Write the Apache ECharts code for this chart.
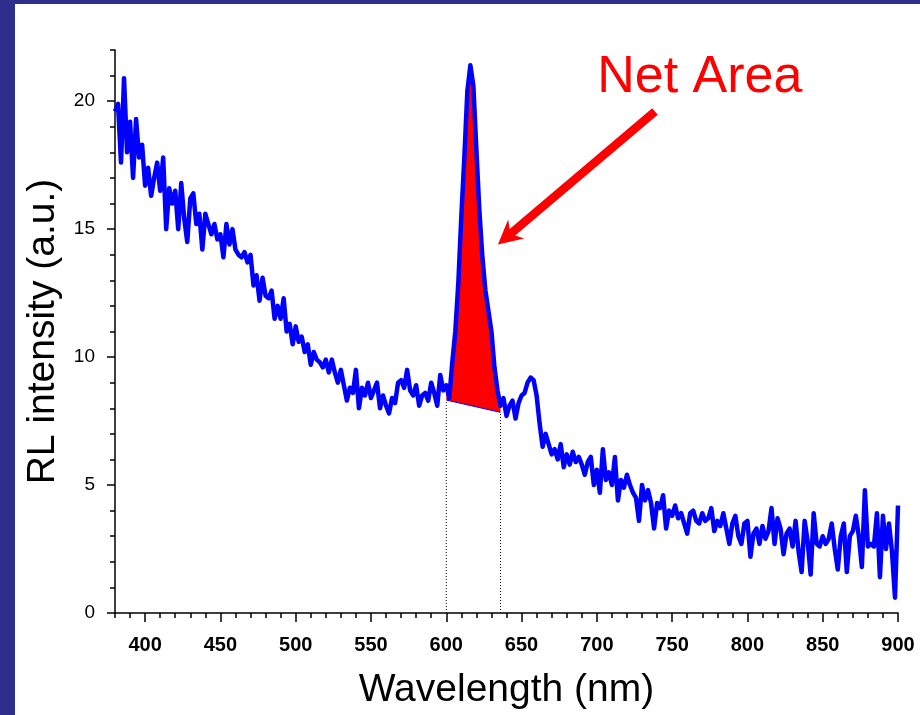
<!DOCTYPE html>
<html>
<head>
<meta charset="utf-8">
<script src="https://cdn.jsdelivr.net/npm/echarts@6/dist/echarts.min.js"></script>
<style>
  html, body { margin: 0; padding: 0; background: #2e2e8c; }
  #frame { position: absolute; left: 15px; top: 4px; width: 905px; height: 711px; background: #ffffff; }
  #chart { position: absolute; left: 0; top: 0; width: 920px; height: 715px; }
</style>
</head>
<body>
<div id="frame"></div>
<div id="chart"></div>
<script>
// ---- Data ----
const wavelengths = [
  380,382,384,386,388,390,392,394,396,398,
  400,402,404,406,408,410,412,414,416,418,
  420,422,424,426,428,430,432,434,436,438,
  440,442,444,446,448,450,452,454,456,458,
  460,462,464,466,468,470,472,474,476,478,
  480,482,484,486,488,490,492,494,496,498,
  500,502,504,506,508,510,512,514,516,518,
  520,522,524,526,528,530,532,534,536,538,
  540,542,544,546,548,550,552,554,556,558,
  560,562,564,566,568,570,572,574,576,578,
  580,582,584,586,588,590,592,594,596,598,
  600,602,604,606,608,610,612,614,616,618,
  620,622,624,626,628,630,632,634,636,638,
  640,642,644,646,648,650,652,654,656,658,
  660,662,664,666,668,670,672,674,676,678,
  680,682,684,686,688,690,692,694,696,698,
  700,702,704,706,708,710,712,714,716,718,
  720,722,724,726,728,730,732,734,736,738,
  740,742,744,746,748,750,752,754,756,758,
  760,762,764,766,768,770,772,774,776,778,
  780,782,784,786,788,790,792,794,796,798,
  800,802,804,806,808,810,812,814,816,818,
  820,822,824,826,828,830,832,834,836,838,
  840,842,844,846,848,850,852,854,856,858,
  860,862,864,866,868,870,872,874,876,878,
  880,882,884,886,888,890,892,894,896,898,
  900
];
const intensity = [
  19.6,19.9,17.6,20.9,18.0,19.2,17.0,19.3,17.8,18.3,
  16.7,17.4,16.3,17.0,17.6,16.5,17.8,15.0,16.6,16.0,
  16.5,15.0,16.8,15.4,14.5,16.2,16.4,15.2,15.6,14.2,
  15.6,15.2,14.8,15.2,14.6,14.8,13.9,15.2,14.4,15.0,
  14.2,14.0,13.9,14.1,13.7,14.0,12.8,13.2,12.2,13.1,
  12.4,12.3,12.6,11.5,12.0,11.5,12.3,11.0,11.3,10.5,
  11.2,10.6,10.8,10.2,10.5,9.7,10.2,9.9,9.8,9.6,
  9.9,9.4,9.9,9.4,9.0,9.5,8.9,8.3,8.8,8.6,
  9.5,8.0,8.8,8.5,9.0,8.4,8.7,9.0,8.0,8.5,
  8.1,7.8,8.4,8.2,9.0,9.1,8.8,9.5,8.7,8.5,
  8.9,8.1,8.5,8.6,8.3,9.0,8.6,8.1,9.3,8.7,
  8.9,8.4,9.8,11.0,12.9,15.5,17.8,20.4,21.4,20.6,
  18.1,15.7,13.9,12.6,11.8,11.0,9.6,8.7,8.1,8.4,
  7.7,8.1,8.3,7.6,8.2,8.5,8.6,9.0,9.2,9.1,
  8.5,7.4,6.5,7.0,6.6,6.2,6.4,6.0,6.6,5.7,
  6.2,5.8,6.3,5.9,6.1,5.8,5.4,5.9,6.1,5.0,
  5.6,4.7,6.4,5.2,5.5,5.0,6.1,4.4,5.2,4.9,
  5.4,5.0,4.7,4.5,3.6,5.0,4.4,4.8,4.3,3.3,
  4.3,4.1,4.6,3.3,4.0,3.8,4.2,3.7,3.9,3.5,
  3.1,3.9,4.0,3.6,3.5,3.9,3.6,3.7,4.1,3.2,
  3.6,3.4,3.9,3.3,2.7,3.5,3.8,3.0,2.7,3.5,
  3.6,2.2,3.1,3.3,2.7,3.4,2.9,3.2,4.1,2.7,
  3.7,3.3,2.3,3.1,3.3,2.6,3.6,2.4,1.6,3.6,
  2.8,1.5,3.9,2.7,2.6,3.0,2.7,2.9,3.5,2.5,
  1.7,3.0,3.5,1.6,3.0,3.2,3.8,3.0,1.8,4.8,
  2.6,2.7,2.6,3.9,1.4,3.8,2.5,3.5,2.4,0.6,
  4.2
];
const xMajorTicks = [400,450,500,550,600,650,700,750,800,850,900];
const xMinorTicks = [380,390,410,420,430,440,460,470,480,490,510,520,530,540,560,570,580,590,
  610,620,630,640,660,670,680,690,710,720,730,740,760,770,780,790,810,820,830,840,860,870,880,890];
const yMajorTicks = [0,5,10,15,20];
const yMinorTicks = [1,2,3,4,6,7,8,9,11,12,13,14,16,17,18,19,21,22];
const peakWindow = [600, 636];          // integration limits (nm)
const baselineValues = [8.32, 7.84];    // baseline intensity at the limits
const arrowTail = [738.6, 19.6];
const arrowTip = [634.3, 14.4];
const labelAnchor = [768.4, 20.9];
const annotationText = 'Net Area';
const xName = 'Wavelength (nm)';
const yName = 'RL intensity (a.u.)';

const FONT = '"Liberation Sans", Arial, Helvetica, sans-serif';
const chart = echarts.init(document.getElementById('chart'), null, { renderer: 'canvas' });

const lineData = wavelengths.map((w, i) => [w, intensity[i]]);

function axisCommon(extra) {
  return Object.assign({
    type: 'value',
    splitLine: { show: false },
    axisLine: { show: false },
    axisLabel: { show: false },
    axisTick: { show: false }
  }, extra);
}

const option = {
  backgroundColor: 'transparent',
  animation: false,
  grid: { left: 115, right: 22, top: 50, bottom: 101 },
  xAxis: [
    axisCommon({
      position: 'bottom', min: 380, max: 900,
      name: xName, nameLocation: 'middle', nameGap: 58,
      nameTextStyle: { fontFamily: FONT, fontSize: 39, color: '#000' },
      axisLine: { show: true, onZero: false, lineStyle: { color: '#000', width: 1.5 } },
      axisTick: { show: true, customValues: xMajorTicks, length: 9, lineStyle: { color: '#000', width: 1.5 } },
      axisLabel: { show: true, customValues: xMajorTicks, margin: 22, fontFamily: FONT, fontSize: 20, fontWeight: 'bold', color: '#000' }
    }),
    axisCommon({
      position: 'bottom', min: 380, max: 900,
      axisTick: { show: true, customValues: xMinorTicks, length: 5, lineStyle: { color: '#000', width: 1.5 } }
    })
  ],
  yAxis: [
    axisCommon({
      position: 'left', min: 0, max: 22,
      name: yName, nameLocation: 'middle', nameGap: 52,
      nameTextStyle: { fontFamily: FONT, fontSize: 39, color: '#000' },
      axisLine: { show: true, onZero: false, lineStyle: { color: '#000', width: 1.5 } },
      axisTick: { show: true, customValues: yMajorTicks, length: 8, lineStyle: { color: '#000', width: 1.5 } },
      axisLabel: { show: true, customValues: yMajorTicks, margin: 20, fontFamily: FONT, fontSize: 19, color: '#000' }
    }),
    axisCommon({
      position: 'left', min: 0, max: 22,
      axisTick: { show: true, customValues: yMinorTicks, length: 5, lineStyle: { color: '#000', width: 1.5 } }
    })
  ],
  series: [
    {
      // net area fill between curve and straight baseline
      type: 'custom',
      xAxisIndex: 0, yAxisIndex: 0,
      data: [[peakWindow[0], baselineValues[0]]],
      z: 1,
      silent: true,
      renderItem: function (params, api) {
        const pts = [api.coord([peakWindow[0], baselineValues[0]])];
        for (let i = 0; i < wavelengths.length; i++) {
          if (wavelengths[i] >= peakWindow[0] && wavelengths[i] <= peakWindow[1]) {
            pts.push(api.coord([wavelengths[i], intensity[i]]));
          }
        }
        pts.push(api.coord([peakWindow[1], baselineValues[1]]));
        const b0 = api.coord([peakWindow[0], baselineValues[0]]);
        const b1 = api.coord([peakWindow[1], baselineValues[1]]);
        const z0 = api.coord([peakWindow[0], 0]);
        const z1 = api.coord([peakWindow[1], 0]);
        return {
          type: 'group',
          children: [
            { type: 'polygon', shape: { points: pts }, style: { fill: '#ff0000', stroke: null } },
            { type: 'line', shape: { x1: b0[0], y1: b0[1], x2: b1[0], y2: b1[1] }, style: { stroke: '#0000ff', lineWidth: 1 } },
            { type: 'line', shape: { x1: z0[0], y1: z0[1], x2: b0[0], y2: b0[1] }, style: { stroke: '#000', lineWidth: 1, lineDash: [1, 2] } },
            { type: 'line', shape: { x1: z1[0], y1: z1[1], x2: b1[0], y2: b1[1] }, style: { stroke: '#000', lineWidth: 1, lineDash: [1, 2] } }
          ]
        };
      }
    },
    {
      type: 'line',
      xAxisIndex: 0, yAxisIndex: 0,
      data: lineData,
      showSymbol: false,
      symbol: 'none',
      z: 3,
      lineStyle: { color: '#0000ff', width: 4.5, join: 'round' },
      silent: true
    },
    {
      // annotation arrow + label
      type: 'custom',
      xAxisIndex: 0, yAxisIndex: 0,
      data: [arrowTip],
      z: 4,
      silent: true,
      renderItem: function (params, api) {
        const tip = api.coord(arrowTip);
        const tail = api.coord(arrowTail);
        const dx = tip[0] - tail[0], dy = tip[1] - tail[1];
        const len = Math.sqrt(dx * dx + dy * dy);
        const ux = dx / len, uy = dy / len;
        const nx = -uy, ny = ux;
        const headBack = 24, notchBack = 19, headHalf = 12.5, shaftHalf = 4.3;
        const P = (back, side) => [tip[0] - ux * back + nx * side, tip[1] - uy * back + ny * side];
        const pts = [
          tip,
          P(headBack, headHalf),
          P(notchBack, shaftHalf),
          [tail[0] + nx * shaftHalf, tail[1] + ny * shaftHalf],
          [tail[0] - nx * shaftHalf, tail[1] - ny * shaftHalf],
          P(notchBack, -shaftHalf),
          P(headBack, -headHalf)
        ];
        const lab = api.coord(labelAnchor);
        return {
          type: 'group',
          children: [
            { type: 'polygon', shape: { points: pts }, style: { fill: '#ff0000' } },
            { type: 'text', x: lab[0], y: lab[1], style: { text: annotationText, fill: '#ff0000', font: '52px ' + FONT, align: 'center', verticalAlign: 'middle' } }
          ]
        };
      }
    }
  ]
};
chart.setOption(option);
</script>
</body>
</html>
